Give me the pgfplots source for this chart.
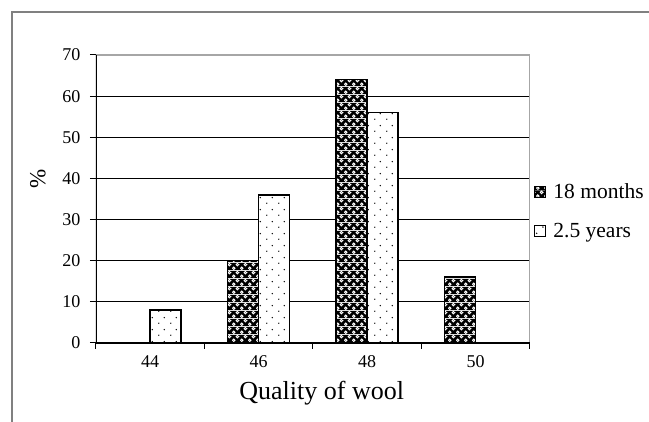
\documentclass[border=0pt]{standalone}
\usepackage{fontspec}
\setmainfont{Liberation Serif}
\usepackage{pgfplots}
\pgfplotsset{compat=1.18}
\usetikzlibrary{patterns.meta}

\tikzdeclarepattern{
  name=darkrings,
  type=colored,
  bottom left={(0pt,0pt)}, top right={(8pt,8pt)},
  tile size={(8pt,8pt)},
  code={
    \fill[black] (0pt,0pt) rectangle (8pt,8pt);
    \draw[white, line width=1pt] (2pt,2pt) circle (1.4pt);
    \draw[white, line width=1pt] (6pt,6pt) circle (1.4pt);
  }
}
\tikzdeclarepattern{
  name=sparsedots,
  type=colored,
  bottom left={(0pt,0pt)}, top right={(12pt,12pt)},
  tile size={(12pt,12pt)},
  code={
    \fill[white] (0pt,0pt) rectangle (12pt,12pt);
    \fill[black] (3pt,3pt) circle (0.8pt);
    \fill[black] (9pt,9pt) circle (0.8pt);
  }
}
\newcommand{\tickfont}{\fontsize{18}{21}\selectfont}

\begin{document}
\begin{tikzpicture}
\useasboundingbox (0pt,0pt) rectangle (649pt,422pt);
\fill[white] (0pt,0pt) rectangle (649pt,422pt);
\draw[gray, line width=1.4pt] (12pt,-2pt) -- (12pt,410pt) -- (652pt,410pt);
\begin{axis}[
  at={(96pt,79pt)}, anchor=south west,
  scale only axis, width=434pt, height=288pt,
  ybar=0pt, bar width=31pt,
  xmin=-0.5, xmax=3.5, ymin=0, ymax=70,
  ytick={0,10,...,70},
  xtick={0,1,2,3}, xticklabels={44,46,48,50},
  minor xtick={-0.5,0.5,1.5,2.5,3.5},
  major x tick style={draw=none},
  minor x tick style={black, line width=1pt},
  ytick style={black, line width=1pt},
  major tick length=6pt, minor tick length=6pt,
  tick align=outside, xtick pos=bottom, ytick pos=left,
  ymajorgrids, grid style={black, line width=0.9pt},
  axis line style={draw=none},
  /pgf/number format/assume math mode=true,
  yticklabel style={font=\tickfont, xshift=-6pt},
  xticklabel style={font=\tickfont, yshift=-3pt},
  xlabel={Quality of wool},
  ylabel={\%},
  xlabel style={font=\fontsize{26}{30}\selectfont, at={(axis description cs:0.52,-0.174)}, anchor=center},
  ylabel style={font=\fontsize{23}{27}\selectfont, at={(axis description cs:-0.134,0.57)}, anchor=center},
  legend style={at={(axis description cs:1.008,0.458)}, anchor=west, draw=none, fill=none,
    font=\fontsize{21.5}{25}\selectfont, row sep=19pt, column sep=6pt,
    legend cell align=left, inner xsep=0pt},
  legend image code/.code={\draw[#1, line width=0.8pt] (0pt,-5.5pt) rectangle (11pt,5.5pt);},
]
\addplot[draw=black, line width=1.5pt, pattern={darkrings}] coordinates {(0,0) (1,20) (2,64) (3,16)};
\addplot[draw=black, line width=1.5pt, pattern={sparsedots}] coordinates {(0,8) (1,36) (2,56) (3,0)};
\legend{18 months, 2.5 years}
\draw[gray!70, line width=1.6pt] (rel axis cs:0,1) -- (rel axis cs:1,1) -- (rel axis cs:1,0);
\draw[black, line width=1.2pt] (rel axis cs:0,1) -- (rel axis cs:0,0) -- (rel axis cs:1,0);
\end{axis}
\end{tikzpicture}
\end{document}
